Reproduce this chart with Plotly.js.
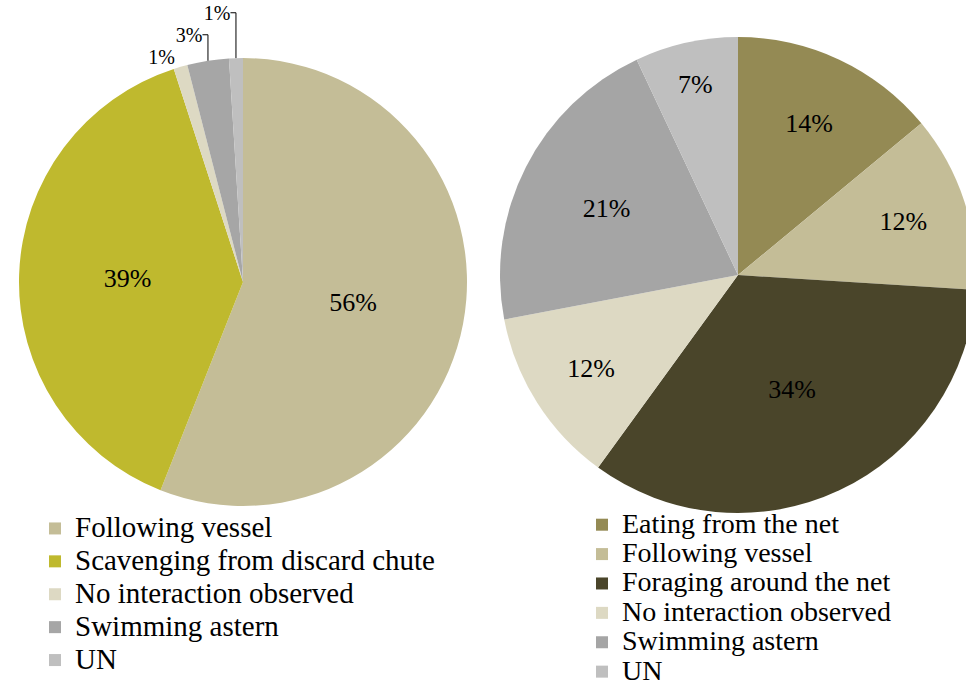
<!DOCTYPE html>
<html>
<head>
<meta charset="utf-8">
<script src="https://cdn.plot.ly/plotly-3.0.1.min.js"></script>
<style>
html, body { margin: 0; padding: 0; overflow: hidden; background: #ffffff; }
#chart { width: 980px; height: 720px; }
</style>
</head>
<body>
<div id="chart"></div>
<script>
// Left pie
const leftLabels = ["Following vessel", "Scavenging from discard chute", "No interaction observed", "Swimming astern", "UN"];
const leftValues = [56, 39, 1, 3, 1];
const leftColors = ["#c4bd97", "#bfb92e", "#ddd9c3", "#a6a6a6", "#bfbfbf"];

// Right pie
const rightLabels = ["Eating from the net", "Following vessel", "Foraging around the net", "No interaction observed", "Swimming astern", "UN"];
const rightValues = [14, 12, 34, 12, 21, 7];
const rightColors = ["#948a54", "#c4bd97", "#4a452a", "#ddd9c3", "#a5a5a5", "#bfbfbf"];

const W = 980, H = 720;
const serif = "Liberation Serif";

function dom(cx, cy, r) {
  return { x: [(cx - r) / W, (cx + r) / W], y: [(H - (cy + r)) / H, (H - (cy - r)) / H] };
}
function big(s, px) { return '<span style="font-size:' + px + 'px">' + s + '</span>'; }

const traces = [
  {
    type: "pie",
    labels: leftLabels.map(s => big(s, 29)),
    values: leftValues,
    marker: { colors: leftColors, line: { width: 0 } },
    sort: false,
    direction: "clockwise",
    rotation: 0,
    domain: dom(243, 282, 224),
    textposition: ["inside", "inside", "outside", "outside", "outside"],
    texttemplate: "%{value}%",
    textfont: { family: serif, size: [26, 26, 20, 20, 20], color: "#000" },
    hoverinfo: "none",
    legend: "legend",
    legendgroup: "L",
    name: "left"
  },
  {
    type: "pie",
    labels: rightLabels.map(s => big(s, 28)),
    values: rightValues,
    marker: { colors: rightColors, line: { width: 0 } },
    sort: false,
    direction: "clockwise",
    rotation: 0,
    domain: dom(738, 275, 238),
    textposition: "inside",
    texttemplate: "%{value}%",
    textfont: { family: serif, size: 26, color: "#000" },
    hoverinfo: "none",
    legend: "legend2",
    legendgroup: "R",
    name: "right"
  }
];

const layout = {
  width: W,
  height: H,
  margin: { l: 0, r: 0, t: 0, b: 0, autoexpand: false },
  font: { family: serif, color: "#000" },
  paper_bgcolor: "#ffffff",
  plot_bgcolor: "#ffffff",
  showlegend: true,
  legend: {
    x: 35 / W, xanchor: "left", y: (H - 507) / H, yanchor: "top",
    font: { family: serif, size: 23, color: "#000" },
    bgcolor: "rgba(0,0,0,0)", tracegroupgap: 0
  },
  legend2: {
    x: 582 / W, xanchor: "left", y: (H - 505) / H, yanchor: "top",
    font: { family: serif, size: 20.3, color: "#000" },
    bgcolor: "rgba(0,0,0,0)", tracegroupgap: 0
  }
};

Plotly.newPlot("chart", traces, layout, { displayModeBar: false, staticPlot: true });
</script>
</body>
</html>
